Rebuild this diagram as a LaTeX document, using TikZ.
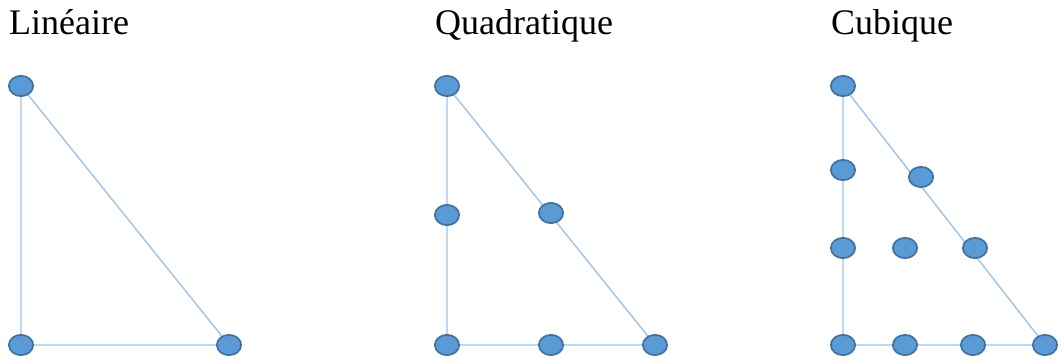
\documentclass[tikz,border=0pt]{standalone}
\usepackage{fontspec}
\setmainfont{Liberation Serif}
\usetikzlibrary{shapes.geometric}
\definecolor{dotfill}{HTML}{5B9BD5}
\definecolor{dotdraw}{HTML}{41719C}
\definecolor{edge}{HTML}{9DC3E6}
\begin{document}
\begin{tikzpicture}[x=1pt,y=-1pt,
  dot/.style={ellipse,fill=dotfill,draw=dotdraw,line width=1.7pt,minimum width=24.3pt,minimum height=20.3pt,inner sep=0pt},
  edgeline/.style={draw=edge,line width=1.4pt},
  title/.style={anchor=base west,inner sep=0pt,font=\fontsize{36}{40}\selectfont}]
\useasboundingbox (0,0) rectangle (1063,362);
\node[title] (t1) at (9,34) {Linéaire};
\node[title] (t2) at (435,34) {Quadratique};
\node[title] (t3) at (831,34) {Cubique};
% Lineaire
\coordinate (a1) at (21,86);
\coordinate (a2) at (21,345);
\coordinate (a3) at (229,345);
\draw[edgeline] (a1) -- (a2) -- (a3) -- cycle;
\foreach \n in {a1,a2,a3} \node[dot] at (\n) {};
% Quadratique
\coordinate (b1) at (447,86);
\coordinate (b2) at (447,215);
\coordinate (b3) at (551,213);
\coordinate (b4) at (447,345);
\coordinate (b5) at (551,345);
\coordinate (b6) at (655,345);
\draw[edgeline] (b1) -- (b4) -- (b6) -- cycle;
\foreach \n in {b1,b2,b3,b4,b5,b6} \node[dot] at (\n) {};
% Cubique
\coordinate (c1) at (843,86);
\coordinate (c2) at (843,170);
\coordinate (c3) at (921,177);
\coordinate (c4) at (843,248);
\coordinate (c5) at (905,248);
\coordinate (c6) at (975,248);
\coordinate (c7) at (843,345);
\coordinate (c8) at (905,345);
\coordinate (c9) at (973,345);
\coordinate (c10) at (1045,345);
\draw[edgeline] (c1) -- (c7) -- (c10) -- cycle;
\foreach \n in {c1,c2,c3,c4,c5,c6,c7,c8,c9,c10} \node[dot] at (\n) {};
\end{tikzpicture}
\end{document}
